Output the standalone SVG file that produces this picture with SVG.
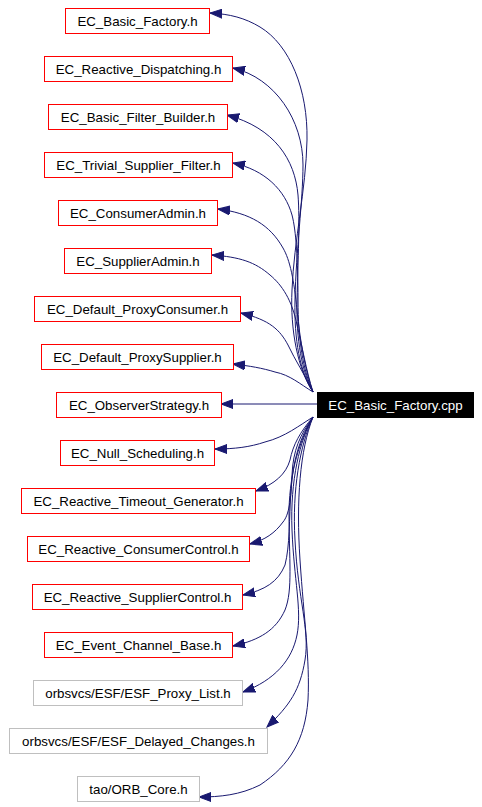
<svg xmlns="http://www.w3.org/2000/svg" width="482" height="807" viewBox="0 0 482 807">
<style>
.n rect{fill:#ffffff;stroke:#ff0000;stroke-width:1}
.g rect{fill:#ffffff;stroke:#bfbfbf;stroke-width:1}
.r rect{fill:#000000;stroke:#000000;stroke-width:1}
text{font-family:"Liberation Sans",Arial,sans-serif;font-size:13.3px;text-anchor:middle;fill:#000000}
.r text{fill:#ffffff}
#edges path{fill:none;stroke:#191970;stroke-width:1;marker-end:url(#ah)}
</style>
<defs>
<marker id="ah" markerUnits="userSpaceOnUse" markerWidth="14" markerHeight="10" refX="12" refY="5" orient="auto" viewBox="0 0 14 10">
<polygon points="12,5 0,0.5 0,9.5" fill="#191970" stroke="#191970"/>
</marker>
</defs>
<g id="edges">
<path d="M313,392 C298,370 290,330 292,290 C294,240 306,190 307,140 C308,90 290,45 260,27 C245,18 230,14 210,13"/>
<path d="M313,392 C300,372 294,340 295,300 C296,250 303,200 303,165 C303,120 275,78 233,68"/>
<path d="M313,392 C302,372 296,340 297,300 C298,260 300,220 298,195 C295,160 275,128 227,115"/>
<path d="M313,392 C303,370 298,340 298,300 C298,260 296,230 292,215 C285,190 265,170 233,163"/>
<path d="M313,392 C305,370 300,340 297,310 C294,280 290,260 283,248 C270,225 250,213 218,209"/>
<path d="M313,392 C306,370 302,345 297,325 C292,300 282,285 270,275 C255,262 240,257 212,255"/>
<path d="M313,392 C305,375 295,360 288,345 C280,330 270,320 241,313"/>
<path d="M313,392 C300,384 290,375 275,372 C262,368 250,366 233,364"/>
<path d="M317,404 L221,404"/>
<path d="M313,417 C300,425 285,437 265,442 C250,447 235,449 215,449"/>
<path d="M313,417 C300,432 293,445 290,460 C286,474 275,484 256,491"/>
<path d="M313,417 C300,435 293,450 292,475 C291,500 289,515 283,522 C275,533 265,540 250,544"/>
<path d="M313,417 C300,437 293,460 291,490 C289,520 290,545 285,565 C278,582 265,590 243,595"/>
<path d="M313,417 C300,440 290,470 289,510 C289,560 293,590 285,610 C276,630 260,640 233,646"/>
<path d="M313,417 C300,440 290,480 292,530 C294,580 302,610 297,635 C292,660 275,680 243,692"/>
<path d="M313,417 C300,445 292,490 295,540 C298,600 310,630 305,660 C300,690 290,705 267,727"/>
<path d="M313,417 C300,450 296,500 300,560 C304,620 310,660 308,700 C305,740 290,765 260,785 C240,795 220,797 199,797"/>
</g>
<g id="n1" class="n"><rect x="65.5" y="8.5" width="144" height="25"/><text x="137.5" y="26">EC_Basic_Factory.h</text></g>
<g id="n2" class="n"><rect x="44.5" y="56.5" width="188" height="25"/><text x="138.5" y="74">EC_Reactive_Dispatching.h</text></g>
<g id="n3" class="n"><rect x="48.5" y="104.5" width="179" height="25"/><text x="138" y="122">EC_Basic_Filter_Builder.h</text></g>
<g id="n4" class="n"><rect x="44.5" y="152.5" width="188" height="25"/><text x="138.5" y="170">EC_Trivial_Supplier_Filter.h</text></g>
<g id="n5" class="n"><rect x="58.5" y="200.5" width="159" height="25"/><text x="138" y="218">EC_ConsumerAdmin.h</text></g>
<g id="n6" class="n"><rect x="64.5" y="248.5" width="147" height="25"/><text x="138" y="266">EC_SupplierAdmin.h</text></g>
<g id="n7" class="n"><rect x="34.5" y="296.5" width="206" height="25"/><text x="137.5" y="314">EC_Default_ProxyConsumer.h</text></g>
<g id="n8" class="n"><rect x="41.5" y="344.5" width="192" height="25"/><text x="137.5" y="362">EC_Default_ProxySupplier.h</text></g>
<g id="n9" class="n"><rect x="56.5" y="392.5" width="165" height="25"/><text x="139" y="410">EC_ObserverStrategy.h</text></g>
<g id="n10" class="r"><rect x="317.5" y="392.5" width="156" height="25"/><text x="395.5" y="410">EC_Basic_Factory.cpp</text></g>
<g id="n11" class="n"><rect x="60.5" y="440.5" width="154" height="25"/><text x="137.5" y="458">EC_Null_Scheduling.h</text></g>
<g id="n12" class="n"><rect x="21.5" y="488.5" width="234" height="25"/><text x="138.5" y="506">EC_Reactive_Timeout_Generator.h</text></g>
<g id="n13" class="n"><rect x="27.5" y="536.5" width="222" height="25"/><text x="138.5" y="554">EC_Reactive_ConsumerControl.h</text></g>
<g id="n14" class="n"><rect x="32.5" y="584.5" width="210" height="25"/><text x="137.5" y="602">EC_Reactive_SupplierControl.h</text></g>
<g id="n15" class="n"><rect x="44.5" y="632.5" width="188" height="25"/><text x="138.5" y="650">EC_Event_Channel_Base.h</text></g>
<g id="n16" class="g"><rect x="33.5" y="680.5" width="209" height="25"/><text x="138" y="698">orbsvcs/ESF/ESF_Proxy_List.h</text></g>
<g id="n17" class="g"><rect x="9.5" y="728.5" width="258" height="25"/><text x="138.5" y="746">orbsvcs/ESF/ESF_Delayed_Changes.h</text></g>
<g id="n18" class="g"><rect x="77.5" y="776.5" width="122" height="25"/><text x="138.5" y="794">tao/ORB_Core.h</text></g>
</svg>
